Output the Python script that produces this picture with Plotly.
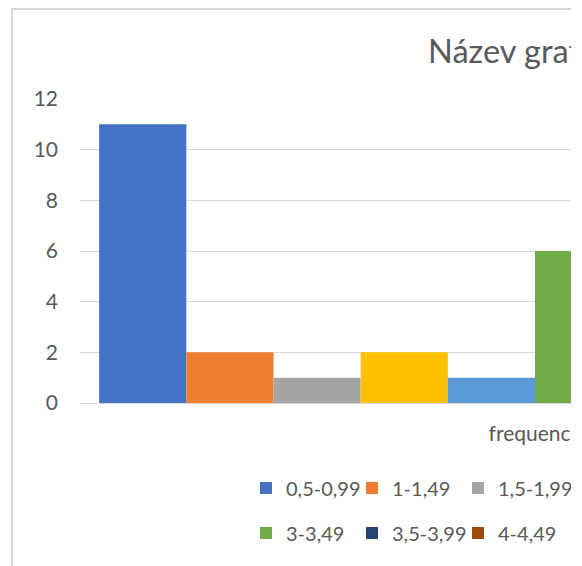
import plotly.graph_objects as go

# ---- data ----
categories = ["frequency"]
series_names = ["0,5-0,99", "1-1,49", "1,5-1,99", "2-2,49", "2,5-2,99",
                "3-3,49", "3,5-3,99", "4-4,49", "4,5-4,99", "5-5,49"]
series_values = [11, 2, 1, 2, 1, 6, 3, 2, 1, 1]
series_colors = ["#4472C4", "#ED7D31", "#A5A5A5", "#FFC000", "#5B9BD5",
                 "#70AD47", "#264478", "#9E480E", "#636363", "#997300"]
y_ticks = [0, 2, 4, 6, 8, 10, 12]
chart_title = "Název grafu"

# ---- geometry (pixels) ----
W, H = 1030, 580
PL, PR, PT, PB = 80, 990, 99, 403  # plot area edges
PW, PH = PR - PL, PB - PT

def px_x(x):
    return (x - PL) / PW

def px_y(y):
    return (PB - y) / PH

FONT = "Lato"
TXT = "#595959"

fig = go.Figure()
for i, (name, val, col) in enumerate(zip(series_names, series_values, series_colors)):
    fig.add_trace(go.Bar(
        x=categories, y=[val], name=name,
        marker=dict(color=col, line=dict(width=0)),
        legend="legend" if i < 5 else "legend2",
    ))

legend_common = dict(
    orientation="h", xanchor="left", yanchor="middle",
    font=dict(family=FONT, size=20, color=TXT),
    bgcolor="rgba(0,0,0,0)", entrywidth=61, entrywidthmode="pixels",
    itemclick=False, itemdoubleclick=False, tracegroupgap=0,
)

fig.update_layout(
    width=W, height=H,
    margin=dict(l=PL, r=W - PR, t=PT, b=H - PB, pad=0),
    paper_bgcolor="white", plot_bgcolor="white",
    barmode="group", bargap=0.042, bargroupgap=0,
    title=dict(text=chart_title, x=513 / W, xref="container", xanchor="center",
               y=1 - 52 / H, yref="container", yanchor="middle",
               font=dict(family=FONT, size=32.5, color=TXT)),
    xaxis=dict(type="category", showgrid=False, zeroline=False, showline=False,
               ticks="", tickfont=dict(family=FONT, size=21, color=TXT),
               ticklabelstandoff=16),
    yaxis=dict(range=[0, 12], tickvals=y_ticks, showgrid=True, gridcolor="#D9D9D9",
               gridwidth=1, zeroline=True, zerolinecolor="#D9D9D9", zerolinewidth=1,
               showline=False, ticks="", tickfont=dict(family=FONT, size=21, color=TXT),
               ticklabelstandoff=21),
    legend=dict(x=px_x(246), y=px_y(488), **legend_common),
    legend2=dict(x=px_x(246), y=px_y(533), **legend_common),
    showlegend=True,
    shapes=[dict(type="rect", xref="paper", yref="paper",
                 x0=px_x(12), x1=px_x(1014), y0=px_y(9), y1=px_y(575),
                 line=dict(color="#D9D9D9", width=2), fillcolor="rgba(0,0,0,0)",
                 layer="below")],
)

fig.write_html(
    "out.html",
    post_script=(
        "document.body.style.margin='0';"
        "document.body.style.overflow='hidden';"
        "var gd=document.getElementById('{plot_id}');"
        "gd.style.clipPath='inset(0 " + str(W - 571) + "px 0 0)';"
    ),
)
